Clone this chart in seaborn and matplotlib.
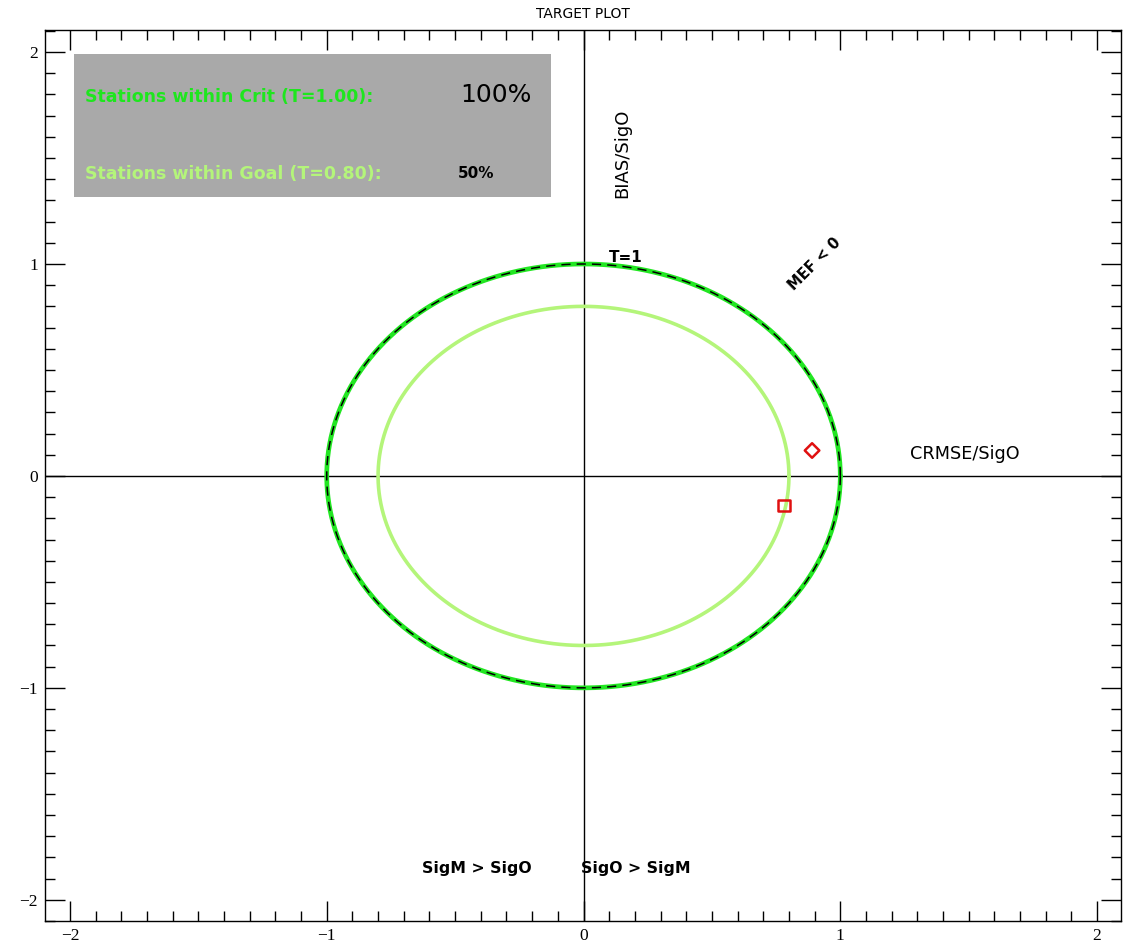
import numpy as np
import pandas as pd
import matplotlib
matplotlib.use("Agg")
import matplotlib.pyplot as plt
from matplotlib.ticker import MultipleLocator
import seaborn as sns

# Target-diagram reference circles (normalised target radii)
crit_radius = 1.00
goal_radius = 0.80

# Station points: CRMSE/SigO (x) and BIAS/SigO (y)
station_names = ["Station A", "Station B"]
station_crmse = [0.89, 0.78]
station_bias = [0.12, -0.14]
station_markers = ["D", "s"]

# Summary statistics shown in the panel
crit_share = "100%"
goal_share = "50%"

sns.set_style("white")
plt.rcParams["font.family"] = ["DejaVu Sans"]
plt.rcParams["text.color"] = "black"

fig = plt.figure(figsize=(11.24, 9.42), dpi=100)
ax = fig.add_axes([45 / 1124, 1 - 921 / 942, (1121 - 45) / 1124, (921 - 30) / 942])


def circle_frame(radius, n=400):
    t = np.linspace(0, 2 * np.pi, n)
    return pd.DataFrame({"x": radius * np.cos(t), "y": radius * np.sin(t)})


crit_df = circle_frame(crit_radius)
goal_df = circle_frame(goal_radius)

# axes cross
ax.axhline(0, color="black", lw=1.0, zorder=1)
ax.axvline(0, color="black", lw=1.0, zorder=1)

sns.lineplot(data=goal_df, x="x", y="y", sort=False, estimator=None,
             color="#b4f57a", lw=2.6, ax=ax, zorder=2)
sns.lineplot(data=crit_df, x="x", y="y", sort=False, estimator=None,
             color="#22e622", lw=3.4, ax=ax, zorder=3)
sns.lineplot(data=crit_df, x="x", y="y", sort=False, estimator=None,
             color="black", lw=1.1, ax=ax, zorder=4,
             linestyle=(0, (6, 4)))

stations = pd.DataFrame({"name": station_names, "x": station_crmse,
                         "y": station_bias})
for i, row in stations.iterrows():
    sns.scatterplot(x=[row["x"]], y=[row["y"]], marker=station_markers[i],
                    s=70 if station_markers[i] == "s" else 55,
                    facecolor="none", edgecolor="#e01010", linewidth=1.8,
                    ax=ax, zorder=5, legend=False)

ax.set_xlim(-2.097, 2.093)
ax.set_ylim(-2.1, 2.104)
ax.set_xlabel("")
ax.set_ylabel("")

ax.xaxis.set_major_locator(MultipleLocator(1))
ax.yaxis.set_major_locator(MultipleLocator(1))
ax.xaxis.set_minor_locator(MultipleLocator(0.1))
ax.yaxis.set_minor_locator(MultipleLocator(0.1))
ax.tick_params(which="both", direction="in", top=True, right=True,
               bottom=True, left=True, color="black", width=1.0,
               labelcolor="black")
ax.tick_params(which="major", length=14.5, labelsize=12.5, pad=5)
ax.tick_params(which="minor", length=7)
for lab in ax.get_xticklabels() + ax.get_yticklabels():
    lab.set_family("Liberation Serif")
for sp in ax.spines.values():
    sp.set_color("black")
    sp.set_linewidth(1.0)

# summary panel
ax.add_patch(plt.Rectangle((-1.986, 1.316), 1.861, 0.674, facecolor="#a9a9a9",
                           edgecolor="none", zorder=6))
ax.text(-1.94, 1.79, "Stations within Crit (T=1.00):", color="#1ee61e",
        fontsize=12.5, fontweight="bold", va="center", ha="left", zorder=7)
ax.text(-0.48, 1.795, crit_share, color="black", fontsize=18,
        va="center", ha="left", zorder=7)
ax.text(-1.94, 1.425, "Stations within Goal (T=0.80):", color="#b4f57a",
        fontsize=12.5, fontweight="bold", va="center", ha="left", zorder=7)
ax.text(-0.49, 1.425, goal_share, color="black", fontsize=11,
        fontweight="bold", va="center", ha="left", zorder=7)

# annotations
fig.text(583 / 1124, 1 - 14 / 942, "TARGET PLOT", fontsize=10,
         ha="center", va="center")
ax.text(0.15, 1.52, "BIAS/SigO", rotation=90, fontsize=13,
        ha="center", va="center")
ax.text(1.27, 0.105, "CRMSE/SigO", fontsize=12.7, ha="left", va="center")
ax.text(0.10, 1.03, "T=1", fontsize=11, fontweight="bold",
        ha="left", va="center")
ax.text(0.90, 1.0, "MEF < 0", rotation=45, fontsize=10.5,
        fontweight="bold", ha="center", va="center")
ax.text(-0.63, -1.85, "SigM > SigO", fontsize=11.3, fontweight="bold",
        ha="left", va="center")
ax.text(-0.01, -1.85, "SigO > SigM", fontsize=11.3, fontweight="bold",
        ha="left", va="center")

fig.savefig("out.png", dpi=100, facecolor="white")
